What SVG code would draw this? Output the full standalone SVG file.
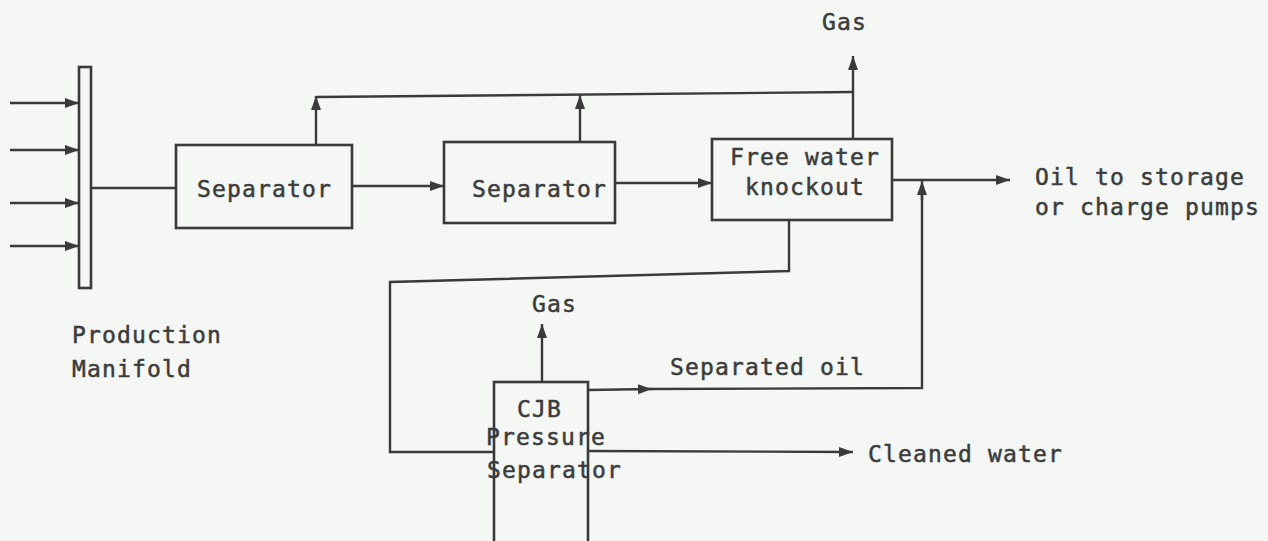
<svg xmlns="http://www.w3.org/2000/svg" width="1268" height="541" viewBox="0 0 1268 541">
<style>
.bg{fill:#f4f7f4}
.box{fill:none;stroke:#3a3a3a;stroke-width:2.6}
.ln{fill:none;stroke:#3a3a3a;stroke-width:2.4}
.ar{marker-end:url(#ah)}
text{font-family:"DejaVu Sans Mono","Liberation Mono",monospace;font-size:23px;fill:#3c3c3c;stroke:#3c3c3c;stroke-width:0.5;letter-spacing:1.15px}
</style>
<defs>
<marker id="ah" markerUnits="userSpaceOnUse" markerWidth="16" markerHeight="12" refX="14" refY="6" orient="auto">
<path d="M0,1 L14,6 L0,11 Z" fill="#3a3a3a"/>
</marker>
</defs>
<rect class="bg" width="1268" height="541"/>
<g id="manifold">
<rect class="box" x="79" y="67" width="12" height="221"/>
<text x="72" y="343">Production</text>
<text x="72" y="377">Manifold</text>
</g>
<g id="separator1">
<rect class="box" x="176" y="145" width="176" height="83"/>
<text x="197" y="197">Separator</text>
</g>
<g id="separator2">
<rect class="box" x="444" y="142" width="171" height="81"/>
<text x="472" y="197">Separator</text>
</g>
<g id="fwko">
<rect class="box" x="712" y="139" width="180" height="81"/>
<text x="730" y="165">Free water</text>
<text x="745" y="195">knockout</text>
</g>
<g id="cjb">
<rect class="box" x="494" y="382" width="94" height="170"/>
<text x="517" y="417">CJB</text>
<text x="486" y="445">Pressure</text>
<text x="487" y="478">Separator</text>
</g>
<g id="labels">
<text x="822" y="30">Gas</text>
<text x="532" y="312">Gas</text>
<text x="1035" y="185">Oil to storage</text>
<text x="1035" y="215">or charge pumps</text>
<text x="670" y="375">Separated oil</text>
<text x="868" y="462">Cleaned water</text>
</g>
<g id="connectors">
<line class="ln ar" x1="10" y1="103" x2="79" y2="103"/>
<line class="ln ar" x1="10" y1="150" x2="79" y2="150"/>
<line class="ln ar" x1="10" y1="203" x2="79" y2="203"/>
<line class="ln ar" x1="10" y1="246" x2="79" y2="246"/>
<line class="ln" x1="91" y1="188" x2="176" y2="188"/>
<line class="ln ar" x1="352" y1="186" x2="444" y2="186"/>
<line class="ln ar" x1="615" y1="183" x2="712" y2="183"/>
<line class="ln ar" x1="316" y1="145" x2="316" y2="96"/>
<line class="ln ar" x1="580" y1="142" x2="580" y2="95"/>
<line class="ln" x1="316" y1="97" x2="853" y2="92"/>
<line class="ln ar" x1="853" y1="139" x2="853" y2="56"/>
<line class="ln ar" x1="892" y1="180" x2="1010" y2="180"/>
<polyline class="ln" points="789,220 789,271 390,282 390,452 494,452"/>
<line class="ln ar" x1="588" y1="451" x2="853" y2="452"/>
<line class="ln ar" x1="542" y1="382" x2="542" y2="324"/>
<line class="ln ar" x1="588" y1="390" x2="652" y2="389"/>
<polyline class="ln" points="650,389 922,388 922,195"/>
<line class="ln ar" x1="922" y1="200" x2="922" y2="181"/>
</g>
</svg>
